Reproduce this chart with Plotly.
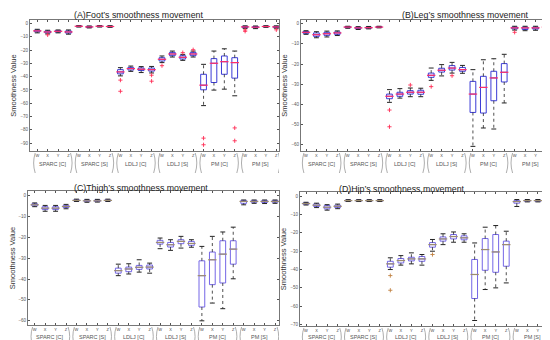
import plotly.graph_objects as go
from plotly.subplots import make_subplots

groups = ["SPARC [C]", "SPARC [S]", "LDLJ [C]", "LDLJ [S]", "PM [C]", "PM [S]"]
subs = ["W", "X", "Y", "Z"]
titles = ["(A)Foot\u2019s smoothness movement", "(B)Leg\u2019s smoothness movement",
          "(C)Thigh\u2019s smoothness movement", "(D)Hip\u2019s smoothness movement"]

# ---- Panel A ----
A_med = [-5.5, -6.3, -5.8, -6.3, -2.0, -2.5, -2.0, -2.2, -36.4, -33.9, -34.4, -34.7,
         -26.9, -22.9, -25.4, -22.9, -46.4, -29.9, -28.7, -29.4, -2.5, -2.7, -2.2, -2.5]
A_q1 = [-6.2, -7.0, -6.4, -7.2, -2.3, -2.9, -2.3, -2.5, -37.9, -35.0, -35.4, -35.8,
        -28.2, -24.2, -26.7, -24.2, -49.9, -44.4, -38.2, -41.1, -2.9, -3.2, -2.5, -2.9]
A_q3 = [-4.9, -5.6, -5.3, -5.5, -1.8, -2.1, -1.8, -1.9, -34.7, -33.0, -33.4, -33.5,
        -25.7, -21.7, -24.2, -21.7, -38.2, -26.4, -24.4, -25.7, -2.1, -2.2, -1.9, -2.1]
A_lo = [-7.0, -7.8, -7.0, -8.0, -2.6, -3.3, -2.6, -2.8, -39.4, -36.0, -36.9, -37.2,
        -29.4, -25.2, -27.7, -25.2, -61.8, -50.1, -49.4, -54.4, -3.6, -3.8, -2.8, -3.5]
A_hi = [-4.3, -5.0, -4.8, -4.8, -1.6, -1.8, -1.6, -1.6, -33.2, -32.0, -32.4, -32.3,
        -24.4, -20.7, -23.2, -20.7, -30.7, -20.7, -19.0, -20.7, -1.7, -1.8, -1.6, -1.7]
A_out_idx = [1, 8, 8, 11, 11, 12, 14, 15, 16, 16, 19, 19, 20, 20, 23]
A_out_val = [-8.5, -42.6, -51.0, -38.9, -43.4, -31.7, -21.9, -19.7, -86.3, -91.3,
             -78.6, -88.3, -4.8, -5.8, -4.7]

# ---- Panel B ----
B_med = [-4.3, -5.5, -5.0, -4.6, -1.7, -2.1, -2.0, -1.7, -36.0, -34.9, -34.0, -34.0,
         -25.6, -23.1, -22.0, -22.8, -34.9, -31.6, -26.9, -24.1, -2.1, -2.1, -2.1, -1.7]
B_q1 = [-4.8, -6.3, -5.8, -5.3, -2.0, -2.5, -2.3, -1.9, -37.2, -36.0, -34.9, -35.0,
        -26.6, -24.0, -23.0, -23.6, -44.0, -44.3, -38.2, -28.9, -2.6, -2.9, -2.7, -2.0]
B_q3 = [-3.9, -4.6, -4.3, -4.1, -1.5, -1.8, -1.7, -1.5, -34.9, -34.0, -33.2, -33.0,
        -24.5, -22.1, -20.8, -21.7, -28.6, -26.1, -23.6, -19.8, -1.7, -1.7, -1.7, -1.5]
B_lo = [-5.3, -7.0, -6.6, -5.9, -2.3, -2.9, -2.6, -2.1, -39.0, -36.9, -36.2, -36.2,
        -28.1, -25.9, -24.5, -24.6, -60.8, -51.7, -52.2, -39.3, -3.2, -3.5, -3.3, -2.3]
B_hi = [-3.5, -4.0, -3.7, -3.6, -1.3, -1.5, -1.4, -1.3, -32.7, -32.2, -31.9, -32.0,
        -22.0, -20.3, -19.2, -20.7, -22.8, -17.9, -17.4, -15.2, -1.3, -1.3, -1.3, -1.2]
B_out_idx = [8, 8, 10, 12, 14, 20]
B_out_val = [-42.8, -51.1, -30.4, -31.2, -25.8, -4.3]

# ---- Panel C ----
C_med = [-4.5, -6.1, -6.1, -5.3, -2.4, -2.6, -2.6, -2.4, -36.0, -35.2, -34.4, -34.3,
         -22.5, -23.6, -22.0, -23.0, -38.4, -30.8, -28.1, -25.7, -2.9, -2.9, -2.9, -2.9]
C_q1 = [-5.0, -6.8, -6.8, -5.8, -2.7, -2.9, -2.9, -2.7, -37.2, -36.5, -35.4, -35.2,
        -23.3, -24.7, -23.1, -23.9, -53.4, -42.7, -41.9, -32.9, -3.8, -3.3, -3.4, -3.3]
C_q3 = [-4.0, -5.4, -5.4, -4.8, -2.1, -2.2, -2.2, -2.1, -34.8, -34.3, -33.5, -33.3,
        -21.5, -22.5, -21.2, -22.0, -31.3, -27.1, -21.7, -21.7, -2.4, -2.4, -2.4, -2.4]
C_lo = [-5.4, -7.6, -7.6, -6.4, -2.9, -3.3, -3.2, -2.9, -38.4, -37.6, -36.7, -37.2,
        -25.5, -26.3, -25.2, -24.8, -60.0, -51.5, -54.2, -39.9, -4.5, -3.8, -3.9, -3.8]
C_hi = [-3.6, -4.8, -4.8, -4.3, -1.8, -1.9, -1.9, -1.8, -32.9, -32.7, -30.8, -32.4,
        -20.4, -21.2, -19.6, -21.2, -24.4, -19.6, -17.5, -15.2, -2.2, -2.2, -2.2, -2.2]
C_out_idx = []
C_out_val = []

# ---- Panel D ----
D_med = [-4.0, -4.9, -6.0, -5.5, -2.4, -2.4, -2.4, -2.4, -36.9, -35.1, -34.2, -34.2,
         -26.4, -23.3, -22.0, -22.7, -42.7, -29.1, -30.4, -26.4, -2.9, -2.4, -2.4, -2.4]
D_q1 = [-4.4, -5.6, -6.9, -6.2, -2.7, -2.7, -2.7, -2.7, -38.7, -36.4, -35.3, -35.5,
        -27.8, -24.5, -23.3, -23.8, -55.8, -40.4, -41.5, -38.2, -3.8, -2.8, -2.8, -2.8]
D_q3 = [-3.6, -4.2, -5.1, -4.9, -2.1, -2.1, -2.1, -2.1, -35.5, -34.0, -33.3, -32.9,
        -25.3, -22.2, -20.9, -21.6, -34.5, -23.1, -20.9, -24.5, -2.4, -2.1, -2.1, -2.1]
D_lo = [-4.8, -6.2, -7.6, -6.8, -2.9, -2.9, -2.9, -2.9, -40.0, -37.6, -36.9, -37.6,
        -30.0, -26.4, -25.1, -25.1, -67.8, -50.9, -50.0, -47.3, -5.6, -3.1, -3.1, -3.1]
D_hi = [-3.3, -3.8, -4.6, -4.3, -1.9, -1.9, -1.9, -1.9, -33.6, -32.4, -30.9, -31.8,
        -23.6, -20.5, -19.5, -20.5, -25.5, -16.9, -16.0, -19.1, -1.8, -1.8, -1.8, -1.8]
D_out_idx = [8, 8, 12]
D_out_val = [-43.3, -51.3, -31.8]

H = 340.0
panels = [
    dict(med=A_med, q1=A_q1, q3=A_q3, lo=A_lo, hi=A_hi, oi=A_out_idx, ov=A_out_val,
         box="#3b3bd6", medc="#ff2d6a", outc="#ff2d55", yr=[-96, 2.7], tv=list(range(0, -91, -10)),
         xr=[-0.7, 23.26], px_x=[22, 271], px_y=[12, 143], tx=130, ty=7, lab=[2, 13, 22]),
    dict(med=B_med, q1=B_q1, q3=B_q3, lo=B_lo, hi=B_hi, oi=B_out_idx, ov=B_out_val,
         box="#3b3bd6", medc="#ff2d6a", outc="#ff2d55", yr=[-63.1, 1.8], tv=list(range(0, -61, -10)),
         xr=[-0.48, 23.58], px_x=[293, 544], px_y=[12, 143], tx=457, ty=7, lab=[2, 13, 22]),
    dict(med=C_med, q1=C_q1, q3=C_q3, lo=C_lo, hi=C_hi, oi=C_out_idx, ov=C_out_val,
         box="#7466e6", medc="#9c8c70", outc="#b08050", yr=[-62, 2.1], tv=list(range(0, -61, -10)),
         xr=[-0.64, 23.38], px_x=[20, 271], px_y=[183, 317], tx=133, ty=180, lab=[2, 12, 21]),
    dict(med=D_med, q1=D_q1, q3=D_q3, lo=D_lo, hi=D_hi, oi=D_out_idx, ov=D_out_val,
         box="#7466e6", medc="#9c8c70", outc="#c08040", yr=[-70.8, 2.3], tv=list(range(0, -71, -10)),
         xr=[-0.57, 23.34], px_x=[292, 544], px_y=[184, 318], tx=394, ty=181, lab=[2, 11, 20]),
]

n = len(groups) * len(subs)
xs = list(range(n))
ticktext = [s for _ in groups for s in subs]

fig = make_subplots(rows=2, cols=2)
font = "Liberation Sans"
shapes = []
annots = []

for k, p in enumerate(panels):
    r, c = k // 2 + 1, k % 2 + 1
    xref = "x" if k == 0 else f"x{k+1}"
    fig.add_trace(go.Box(
        x=xs, q1=p["q1"], median=p["med"], q3=p["q3"],
        lowerfence=p["q1"], upperfence=p["q3"],
        line=dict(color=p["box"], width=1), fillcolor="rgba(255,255,255,0)",
        boxpoints=False, width=0.55, whiskerwidth=0, showlegend=False, hoverinfo="skip"),
        row=r, col=c)
    wx, wy = [], []
    for i in range(n):
        for a, b in ((p["q3"][i], p["hi"][i]), (p["q1"][i], p["lo"][i])):
            wx += [xs[i], xs[i], None]
            wy += [a, b, None]
    fig.add_trace(go.Scatter(x=wx, y=wy, mode="lines",
                             line=dict(color="#222222", width=0.8, dash="dot"),
                             showlegend=False, hoverinfo="skip"), row=r, col=c)
    fig.add_trace(go.Scatter(x=xs + xs, y=p["hi"] + p["lo"], mode="markers",
                             marker=dict(symbol="line-ew", size=3.5,
                                         line=dict(color="#222222", width=1)),
                             showlegend=False, hoverinfo="skip"), row=r, col=c)
    fig.add_trace(go.Scatter(x=xs, y=p["med"], mode="markers",
                             marker=dict(symbol="line-ew", size=6,
                                         line=dict(color=p["medc"], width=1.2)),
                             showlegend=False, hoverinfo="skip"), row=r, col=c)
    if p["oi"]:
        fig.add_trace(go.Scatter(x=[xs[i] for i in p["oi"]], y=p["ov"], mode="markers",
                                 marker=dict(symbol="cross-thin", size=3,
                                             line=dict(color=p["outc"], width=0.9)),
                                 showlegend=False, hoverinfo="skip"), row=r, col=c)
    xa = "xaxis" if k == 0 else f"xaxis{k+1}"
    ya = "yaxis" if k == 0 else f"yaxis{k+1}"
    dx = [p["px_x"][0] / 550, p["px_x"][1] / 550]
    dy = [(H - p["px_y"][1]) / H, (H - p["px_y"][0]) / H]
    fig.layout[xa].update(domain=dx, range=p["xr"], tickvals=xs, ticktext=ticktext,
                          showline=True, mirror="ticks", linecolor="#777777", linewidth=1,
                          ticks="inside", ticklen=2, tickcolor="#555555",
                          tickfont=dict(size=4, color="#444444", family=font),
                          showgrid=False, zeroline=False, automargin=False)
    fig.layout[ya].update(domain=dy, range=p["yr"], tickvals=p["tv"],
                          showline=True, mirror="ticks", linecolor="#777777", linewidth=1,
                          ticks="inside", ticklen=2, tickcolor="#555555",
                          tickfont=dict(size=4.5, color="#555555", family=font),
                          showgrid=False, zeroline=False, automargin=False,
                          title=dict(text="Smoothness Value", standoff=2,
                                     font=dict(size=7.5, color="#333333", family=font)))
    annots.append(dict(text=titles[k], x=p["tx"] / 550, y=(H - p["ty"]) / H,
                       xref="paper", yref="paper", xanchor="center", yanchor="middle",
                       showarrow=False, font=dict(size=8.8, color="#222222", family=font)))
    bot = p["px_y"][1]
    o_top, o_lab, o_bot = p["lab"]
    ytop = (H - (bot + o_top)) / H
    ybot = (H - (bot + o_bot)) / H
    ymid = (ytop + ybot) / 2
    for g, name in enumerate(groups):
        x0 = g * 4 - 0.45
        x1 = g * 4 + 3.45
        annots.append(dict(text=name, x=g * 4 + 1.5, y=(H - (bot + o_lab)) / H,
                           xref=xref, yref="paper", xanchor="center", yanchor="middle",
                           showarrow=False, font=dict(size=5.5, color="#555555", family=font)))
        shapes.append(dict(type="path", xref=xref, yref="paper",
                           path=f"M {x0+0.25},{ytop} Q {x0-0.05},{ymid} {x0+0.25},{ybot}",
                           line=dict(color="#999999", width=0.8)))
        shapes.append(dict(type="path", xref=xref, yref="paper",
                           path=f"M {x1-0.25},{ytop} Q {x1+0.05},{ymid} {x1-0.25},{ybot}",
                           line=dict(color="#999999", width=0.8)))

fig.update_layout(width=550, height=340, margin=dict(l=0, r=0, t=0, b=0),
                  plot_bgcolor="white", paper_bgcolor="white",
                  annotations=annots, shapes=shapes)
fig.write_html("out.html")
